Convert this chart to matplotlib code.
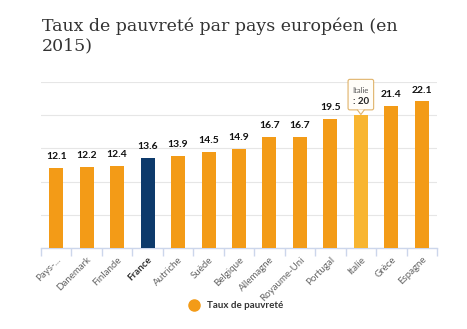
import matplotlib.pyplot as plt
from matplotlib.lines import Line2D
from matplotlib.patches import FancyBboxPatch, Polygon

# Poverty rate by country (2015)
countries = ["Pays-...", "Danemark", "Finlande", "France", "Autriche", "Suède",
             "Belgique", "Allemagne", "Royaume-Uni", "Portugal", "Italie",
             "Grèce", "Espagne"]
rates = [12.1, 12.2, 12.4, 13.6, 13.9, 14.5, 14.9, 16.7, 16.7, 19.5, 20, 21.4, 22.1]
highlight = "France"
hovered = "Italie"

orange = "#F39B17"
navy = "#0D3A6B"
light_orange = "#F8B531"

colors = []
for c in countries:
    if c == highlight:
        colors.append(navy)
    elif c == hovered:
        colors.append(light_orange)
    else:
        colors.append(orange)

fig = plt.figure(figsize=(4.67, 3.29), dpi=100)
ax = fig.add_axes([41 / 467, 1 - 248 / 329, 396 / 467, 166 / 329])

x = list(range(len(countries)))
ax.bar(x, rates, width=0.46, color=colors, zorder=3)

ax.set_xlim(-0.5, len(countries) - 0.5)
ax.set_ylim(0, 25)
ax.set_yticks([0, 5, 10, 15, 20, 25])
ax.yaxis.grid(True, color="#E6E6E6", linewidth=0.8, zorder=0)
ax.tick_params(axis="y", length=0, labelleft=False)
for s in ["top", "right", "left"]:
    ax.spines[s].set_visible(False)
ax.spines["bottom"].set_color("#CCD6EB")
ax.spines["bottom"].set_linewidth(1)

# tick marks between categories
ax.set_xticks([i - 0.5 for i in range(len(countries) + 1)], minor=True)
ax.tick_params(axis="x", which="minor", length=6, color="#CCD6EB", width=1)
ax.set_xticks(x)
ax.tick_params(axis="x", which="major", length=0, pad=5)
ax.set_xticklabels(countries, rotation=45, ha="right", rotation_mode="anchor",
                   fontsize=7, color="#666666", family="Lato")
for lbl in ax.get_xticklabels():
    if lbl.get_text() == highlight:
        lbl.set_fontweight("bold")
        lbl.set_color("#333333")

# value labels
for xi, v, c in zip(x, rates, countries):
    if c == hovered:
        continue
    ax.text(xi, v + 1.0, f"{v:g}", ha="center", va="bottom", fontsize=7.5,
            fontweight="bold", color="#111111", family="Lato")

# tooltip on the hovered bar
hi = countries.index(hovered)
hv = rates[hi]
box_bottom = hv + 0.8
box = FancyBboxPatch((hi - 0.42, box_bottom), 0.84, 4.6,
                     boxstyle="round,pad=0,rounding_size=0.06",
                     fc="#FFFDF8", ec="#E0B36A", lw=0.8,
                     clip_on=False, zorder=5, mutation_aspect=4.5)
ax.add_patch(box)
pointer = Polygon([(hi - 0.12, box_bottom + 0.05), (hi, hv + 0.1),
                   (hi + 0.12, box_bottom + 0.05)],
                  closed=False, fc="#FFFDF8", ec="#E0B36A", lw=0.8,
                  clip_on=False, zorder=6)
ax.add_patch(pointer)
ax.text(hi, hv + 3.7, hovered, ha="center", va="center", fontsize=5.5,
        color="#555555", family="Lato", zorder=7)
ax.text(hi, hv + 2.05, f": {hv:g}", ha="center", va="center", fontsize=7,
        fontweight="bold", color="#222222", family="Lato", zorder=7)

fig.text(42 / 467, 1 - 36 / 329, "Taux de pauvreté par pays européen (en\n2015)",
         ha="left", va="center", fontsize=12.5, color="#333333",
         family="DejaVu Serif", linespacing=1.2)

handle = Line2D([], [], marker="o", linestyle="", markersize=8,
                markerfacecolor=orange, markeredgecolor=orange)
fig.legend([handle], ["Taux de pauvreté"], loc="center",
           bbox_to_anchor=(234 / 467, 1 - 306 / 329), frameon=False,
           prop=dict(family="Lato", weight="bold", size=7), handletextpad=0.3,
           labelcolor="#333333")

fig.savefig("out.png", dpi=100)
